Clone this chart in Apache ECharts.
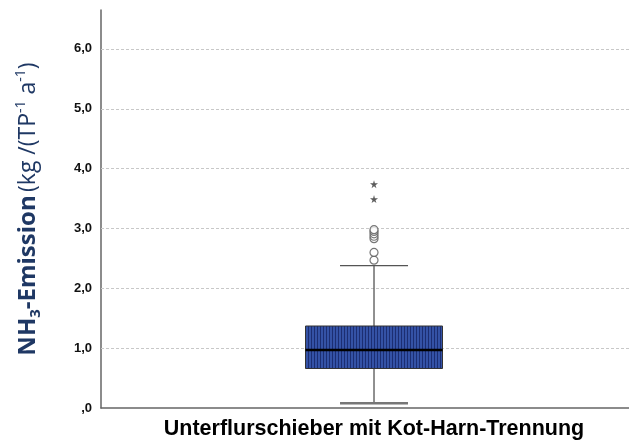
<!DOCTYPE html>
<html>
<head>
<meta charset="utf-8">
<script src="https://cdn.jsdelivr.net/npm/echarts@6/dist/echarts.min.js"></script>
<style>
  html, body { margin: 0; padding: 0; background: #fff; }
  #chart { width: 629px; height: 440px; }
</style>
</head>
<body>
<div id="chart"></div>
<script>
// data
const categories = ['Unterflurschieber mit Kot-Harn-Trennung'];
// [min, Q1, median, Q3, max]
const boxStats = [[0.08, 0.66, 0.97, 1.37, 2.38]];
const outliers = [2.47, 2.60, 2.83, 2.87, 2.91, 2.95, 2.98];
const extremes = [3.49, 3.74];
const gridValues = [1, 2, 3, 4, 5, 6];

const FONT = "'Liberation Sans', Arial, sans-serif";
const NAME_FONT = "'Open Sans', 'Liberation Sans', sans-serif";
const NAVY = '#1f3864';

// striped fill like the SPSS pattern
function stripePattern() {
  const c = document.createElement('canvas');
  c.width = 3; c.height = 4;
  const ctx = c.getContext('2d');
  ctx.fillStyle = '#3452a6';
  ctx.fillRect(0, 0, 3, 4);
  ctx.fillStyle = '#1c2e72';
  ctx.fillRect(2, 0, 1, 4);
  return c;
}
const pattern = stripePattern();

const chart = echarts.init(document.getElementById('chart'));

// x is a value axis so the box can sit a bit right of the middle, like the original
const option = {
  animation: false,
  grid: { left: 101, right: 0, top: 10, bottom: 32, outerBoundsMode: 'none' },
  xAxis: {
    type: 'value',
    min: -1,
    max: 0.934,
    interval: 1,
    splitLine: { show: false },
    axisLine: { onZero: false, lineStyle: { color: '#666', width: 1.5 } },
    axisTick: { show: false },
    axisLabel: {
      color: '#000', fontFamily: FONT, fontSize: 21.5, fontWeight: 'bold', margin: 10,
      showMinLabel: false, showMaxLabel: false,
      formatter: v => v === 0 ? categories[0] : ''
    }
  },
  yAxis: {
    type: 'value',
    min: 0,
    max: 6.65,
    interval: 1,
    name: '{b|NH}{sub|3}{b|-Emission} {r|(kg /(TP}{sup|-1}{r| a}{sup|-1}{r|)}',
    nameLocation: 'middle',
    nameRotate: 90,
    nameGap: 57,
    nameTextStyle: {
      rich: {
        b: { fontFamily: NAME_FONT, fontSize: 24, fontWeight: 'bold', color: NAVY, lineHeight: 32, verticalAlign: 'middle' },
        sub: { fontFamily: NAME_FONT, fontSize: 15, fontWeight: 'bold', color: NAVY, lineHeight: 32, verticalAlign: 'bottom', padding: [0, 0, 1, 0] },
        r: { fontFamily: NAME_FONT, fontSize: 23, color: NAVY, lineHeight: 32, verticalAlign: 'middle' },
        sup: { fontFamily: NAME_FONT, fontSize: 14, color: NAVY, lineHeight: 32, verticalAlign: 'top', padding: [2, 0, 0, 0] }
      }
    },
    axisLine: { show: true, onZero: false, lineStyle: { color: '#666', width: 1.5 } },
    axisTick: { show: false },
    axisLabel: {
      color: '#111', fontFamily: FONT, fontSize: 13, fontWeight: 'bold', margin: 9,
      showMaxLabel: false,
      formatter: v => v === 0 ? ',0' : v.toFixed(1).replace('.', ',')
    },
    splitLine: { show: false }
  },
  series: [
    {
      // only carries the dashed grid lines, kept behind the box
      type: 'scatter',
      data: [],
      z: 1,
      markLine: {
        z: 1,
        silent: true,
        symbol: 'none',
        label: { show: false },
        lineStyle: { color: '#c8c8c8', type: [3, 2], width: 1 },
        data: gridValues.map(v => ({ yAxis: v }))
      }
    },
    {
      type: 'custom',
      data: boxStats.map((s, i) => [i].concat(s)),
      renderItem: function (params, api) {
        const i = api.value(0);
        const x = api.coord([i, 0])[0];
        const yMin = api.coord([i, api.value(1)])[1];
        const yQ1 = api.coord([i, api.value(2)])[1];
        const yMed = api.coord([i, api.value(3)])[1];
        const yQ3 = api.coord([i, api.value(4)])[1];
        const yMax = api.coord([i, api.value(5)])[1];
        const bw = 137, cw = 68;
        const whisker = { stroke: '#555', lineWidth: 1.3 };
        return {
          type: 'group',
          children: [
            { type: 'line', shape: { x1: x, y1: yQ3, x2: x, y2: yMax }, style: whisker },
            { type: 'line', shape: { x1: x, y1: yQ1, x2: x, y2: yMin }, style: whisker },
            { type: 'line', shape: { x1: x - cw / 2, y1: yMax, x2: x + cw / 2, y2: yMax }, style: whisker },
            { type: 'line', shape: { x1: x - cw / 2, y1: yMin, x2: x + cw / 2, y2: yMin }, style: { stroke: '#777', lineWidth: 2.5 } },
            {
              type: 'rect',
              shape: { x: x - bw / 2, y: yQ3, width: bw, height: yQ1 - yQ3 },
              style: { fill: { image: pattern, repeat: 'repeat' }, stroke: '#333', lineWidth: 1 }
            },
            { type: 'line', shape: { x1: x - bw / 2, y1: yMed, x2: x + bw / 2, y2: yMed }, style: { stroke: '#000', lineWidth: 2.5 } }
          ]
        };
      },
      z: 3
    },
    {
      type: 'scatter',
      data: outliers.map(v => [0, v]),
      symbol: 'circle',
      symbolSize: 8,
      itemStyle: { color: '#fff', borderColor: '#555', borderWidth: 1.2 },
      z: 4
    },
    {
      type: 'scatter',
      data: extremes.map(v => [0, v]),
      symbol: 'path://M50,0 L61,35 L98,35 L68,57 L79,91 L50,70 L21,91 L32,57 L2,35 L39,35 Z',
      symbolSize: 8,
      itemStyle: { color: '#333' },
      z: 4
    }
  ]
};

chart.setOption(option);
</script>
</body>
</html>
